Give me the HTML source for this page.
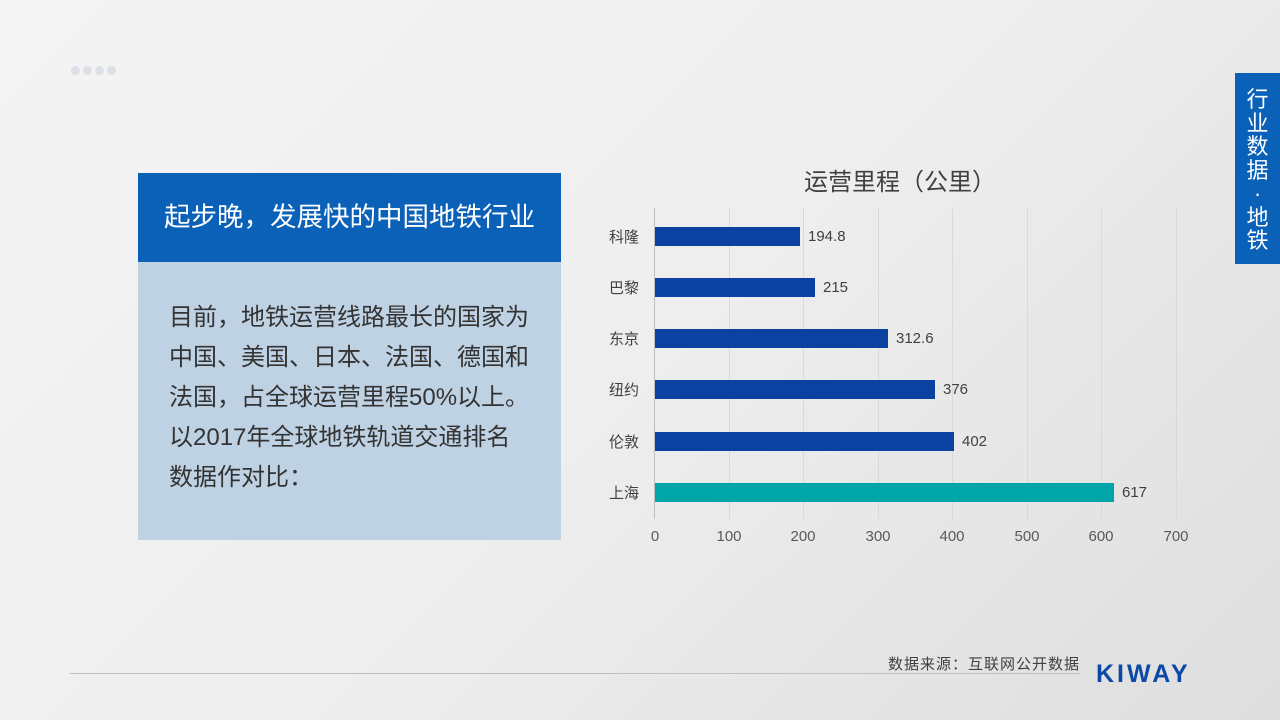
<!DOCTYPE html>
<html><head><meta charset="utf-8"><style>
body{margin:0;width:1280px;height:720px;overflow:hidden;background:linear-gradient(135deg,#f4f4f4 0%,#eeeeee 50%,#dedede 100%);font-family:"Liberation Sans","Noto Sans CJK SC",sans-serif;position:relative}
.a{position:absolute}
.dot{width:9px;height:9px;border-radius:50%;background:#dce0e6;top:66px}
.p{font-size:24px;color:#333;line-height:40px}
.gl{width:1px;background:#d9d9d9;top:208px;height:311px}
.bar{height:19px;left:655px;background:#0b41a0}
.cl{font-size:15px;color:#404040;left:609px;width:34px}
.vl{font-size:15px;color:#404040}
.tk{font-size:15px;color:#595959;top:528px;width:40px;text-align:center}
.vt{left:1235px;width:45px;text-align:center;color:#fff;font-size:22px;line-height:23.5px}
</style></head><body>
<div class="a dot" style="left:71px"></div><div class="a dot" style="left:83px"></div><div class="a dot" style="left:95px"></div><div class="a dot" style="left:107px"></div>
<div class="a" style="left:138px;top:173px;width:423px;height:89px;background:#0b61b8;color:#fff;font-size:26.5px;line-height:89px;text-align:center">起步晚，发展快的中国地铁行业</div>
<div class="a" style="left:138px;top:262px;width:423px;height:278px;background:#bfd2e4"></div>
<div class="a p" style="left:169px;top:298px;width:364px">目前，地铁运营线路最长的国家为中国、美国、日本、法国、德国和法国，占全球运营里程50%以上。以2017年全球地铁轨道交通排名数据作对比：</div>
<div class="a" style="left:1235px;top:73px;width:45px;height:191px;background:#0b61b8"></div>
<div class="a vt" style="top:88px">行<br>业<br>数<br>据<br>·<br>地<br>铁</div>
<div class="a" style="left:710px;top:162px;width:380px;text-align:center;font-size:24px;color:#404040">运营里程（公里）</div>
<div class="a gl" style="left:654px;background:#bfbfbf"></div>
<div class="a gl" style="left:729px"></div><div class="a gl" style="left:803px"></div><div class="a gl" style="left:878px"></div><div class="a gl" style="left:952px"></div><div class="a gl" style="left:1027px"></div><div class="a gl" style="left:1101px"></div><div class="a gl" style="left:1176px"></div>
<div class="a bar" style="top:227px;width:145px"></div><div class="a vl" style="left:808px;top:228px">194.8</div><div class="a cl" style="top:226px">科隆</div>
<div class="a bar" style="top:278px;width:160px"></div><div class="a vl" style="left:823px;top:279px">215</div><div class="a cl" style="top:277px">巴黎</div>
<div class="a bar" style="top:329px;width:233px"></div><div class="a vl" style="left:896px;top:330px">312.6</div><div class="a cl" style="top:328px">东京</div>
<div class="a bar" style="top:380px;width:280px"></div><div class="a vl" style="left:943px;top:381px">376</div><div class="a cl" style="top:379px">纽约</div>
<div class="a bar" style="top:432px;width:299px"></div><div class="a vl" style="left:962px;top:433px">402</div><div class="a cl" style="top:431px">伦敦</div>
<div class="a bar" style="top:483px;width:459px;background:#00a5a8"></div><div class="a vl" style="left:1122px;top:484px">617</div><div class="a cl" style="top:482px">上海</div>
<div class="a tk" style="left:635px">0</div><div class="a tk" style="left:709px">100</div><div class="a tk" style="left:783px">200</div><div class="a tk" style="left:858px">300</div><div class="a tk" style="left:932px">400</div><div class="a tk" style="left:1007px">500</div><div class="a tk" style="left:1081px">600</div><div class="a tk" style="left:1156px">700</div>
<div class="a" style="left:888px;top:653px;font-size:15px;color:#404040;letter-spacing:1px">数据来源：互联网公开数据</div>
<div class="a" style="left:70px;top:673px;width:1010px;height:1px;background:#bfbfbf"></div>
<div class="a" style="left:1096px;top:660px;font-size:25px;font-weight:bold;color:#0c48a8;letter-spacing:3px">KIWAY</div>
</body></html>
